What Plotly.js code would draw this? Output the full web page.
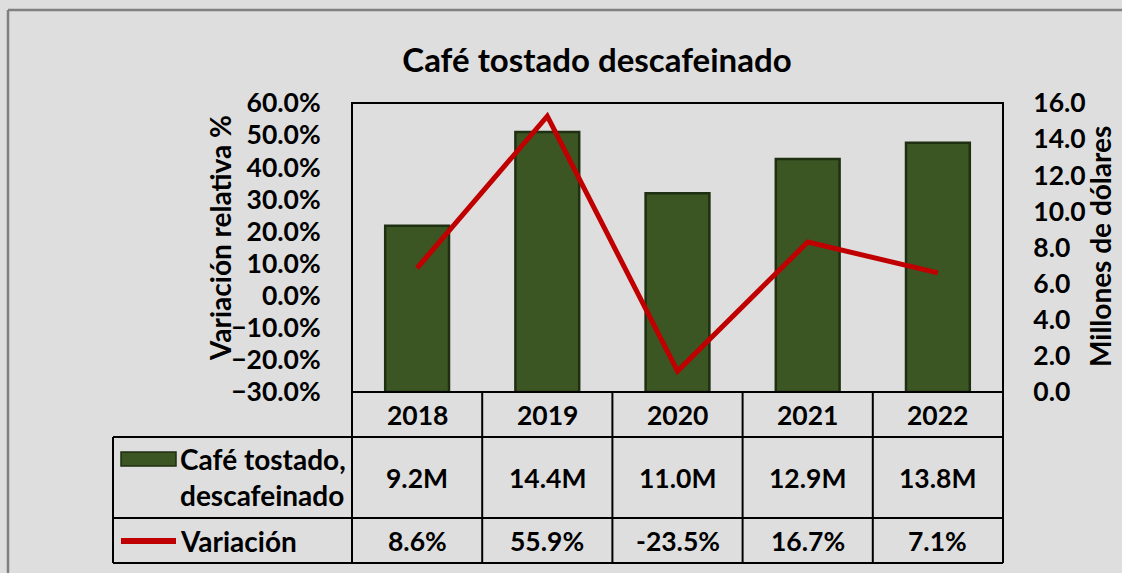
<!DOCTYPE html>
<html>
<head>
<meta charset="utf-8">
<script src="https://cdn.plot.ly/plotly-3.0.1.min.js"></script>
<style>
html,body{margin:0;padding:0;background:#dedede;}
#chart{width:1122px;height:573px;}
</style>
</head>
<body>
<div id="chart"></div>
<script>
// Data
const years = ['2018', '2019', '2020', '2021', '2022'];
const ventas = [9.2, 14.4, 11.0, 12.9, 13.8];      // millones de dólares
const variacion = [8.6, 55.9, -23.5, 16.7, 7.1];  // %
const serieBarras = 'Café tostado,<br>descafeinado';
const serieLinea = 'Variación';
const titulo = 'Café tostado descafeinado';
const tituloIzq = 'Variación relativa %';
const tituloDer = 'Millones de dólares';

const W = 1122, H = 573;
const L = 352, R = 1003, T = 103, B = 392;
const px = x => (x - L) / (R - L);
const py = y => (B - y) / (B - T);

const FONT = 'Lato, "Open Sans", sans-serif';
const fBold = (size) => ({family: FONT, size: size, color: '#000', weight: 'bold'});
const NUM = 26.5;  // numeric text size
const TXT = 28;    // word text size

const barColor = '#3b5623';
const lineColor = '#c00000';

const traces = [
  {
    type: 'bar', x: years, y: ventas, yaxis: 'y', width: 0.49,
    marker: {color: barColor, line: {color: '#1f2f12', width: 2.5}},
    hoverinfo: 'skip'
  },
  {
    type: 'scatter', mode: 'lines', x: years, y: variacion, yaxis: 'y2',
    line: {color: lineColor, width: 5},
    hoverinfo: 'skip'
  }
];

const shapes = [];
const hline = (y, x0, x1, color, w) => shapes.push({type: 'line', xref: 'paper', yref: 'paper',
  x0: px(x0), x1: px(x1), y0: py(y), y1: py(y), line: {color: color || '#000', width: w || 2}});
const vlinePx = (x, y0, y1, color, w) => shapes.push({type: 'line', xref: 'paper', yref: 'paper',
  x0: px(x), x1: px(x), y0: py(y0), y1: py(y1), line: {color: color || '#000', width: w || 2}});

// plot frame
shapes.push({type: 'rect', xref: 'paper', yref: 'paper', x0: 0, x1: 1, y0: 0, y1: 1,
  line: {color: '#000', width: 2}, layer: 'above'});
// table
hline(437, 113, R);
hline(518, 113, R);
hline(563, 113, R);
vlinePx(113, 437, 563);
vlinePx(L, B, 563);
vlinePx(R, B, 563);
years.forEach((_, i) => {
  if (i < years.length - 1) {
    shapes.push({type: 'line', xref: 'x', yref: 'paper', x0: i + 0.5, x1: i + 0.5,
      y0: py(B), y1: py(563), line: {color: '#000', width: 2}});
  }
});
// outer border
hline(10, 8, W + 5, '#808080', 2.5);
vlinePx(8, 10, H + 5, '#808080', 2.5);
// legend swatches
shapes.push({type: 'rect', xref: 'paper', yref: 'paper', x0: px(121), x1: px(176), y0: py(452), y1: py(466),
  fillcolor: barColor, line: {color: '#1f2f12', width: 1.5}});
shapes.push({type: 'line', xref: 'paper', yref: 'paper', x0: px(121), x1: px(176), y0: py(541), y1: py(541),
  line: {color: lineColor, width: 6}});

const annotations = [];
years.forEach((yr, i) => {
  annotations.push({xref: 'x', yref: 'paper', x: i, y: py(414.5), text: yr, showarrow: false,
    font: fBold(NUM), xanchor: 'center', yanchor: 'middle'});
  annotations.push({xref: 'x', yref: 'paper', x: i, y: py(477.5), text: ventas[i].toFixed(1) + 'M', showarrow: false,
    font: fBold(NUM), xanchor: 'center', yanchor: 'middle'});
  annotations.push({xref: 'x', yref: 'paper', x: i, y: py(540.5), text: variacion[i].toFixed(1) + '%', showarrow: false,
    font: fBold(NUM), xanchor: 'center', yanchor: 'middle'});
});
annotations.push({xref: 'paper', yref: 'paper', x: px(178), y: py(477), text: serieBarras, showarrow: false,
  font: fBold(TXT), xanchor: 'left', yanchor: 'middle', align: 'left'});
annotations.push({xref: 'paper', yref: 'paper', x: px(178), y: py(540.5), text: serieLinea, showarrow: false,
  font: fBold(TXT), xanchor: 'left', yanchor: 'middle', align: 'left'});
annotations.push({xref: 'paper', yref: 'paper', x: px(220), y: py(238), text: tituloIzq, showarrow: false,
  font: fBold(TXT), textangle: -90, xanchor: 'center', yanchor: 'middle'});
annotations.push({xref: 'paper', yref: 'paper', x: px(1100), y: py(247), text: tituloDer, showarrow: false,
  font: fBold(TXT), textangle: -90, xanchor: 'center', yanchor: 'middle'});

const layout = {
  width: W, height: H,
  margin: {l: L, r: W - R, t: T, b: H - B, pad: 0},
  paper_bgcolor: '#dedede', plot_bgcolor: '#dedede',
  showlegend: false,
  title: {text: titulo, font: fBold(33), x: 597 / W, xanchor: 'center',
    y: 1 - 60 / H, yanchor: 'middle', xref: 'container', yref: 'container'},
  xaxis: {type: 'category', range: [-0.5, 4.5], showticklabels: false, showgrid: false,
    zeroline: false, showline: false, ticks: '', fixedrange: true},
  yaxis: {range: [0, 16], dtick: 2, tick0: 0, tickformat: '.1f', side: 'right',
    showgrid: false, zeroline: false, showline: false, ticks: 'outside', ticklen: 24,
    tickcolor: 'rgba(0,0,0,0)', tickfont: fBold(NUM)},
  yaxis2: {range: [-30, 60], dtick: 10, tick0: 0, tickformat: '.1f', ticksuffix: '%',
    overlaying: 'y', side: 'left',
    showgrid: false, zeroline: false, showline: false, ticks: 'outside', ticklen: 25,
    tickcolor: 'rgba(0,0,0,0)', tickfont: fBold(NUM)},
  shapes: shapes,
  annotations: annotations
};

Plotly.newPlot('chart', traces, layout, {displayModeBar: false, staticPlot: true});
</script>
</body>
</html>
